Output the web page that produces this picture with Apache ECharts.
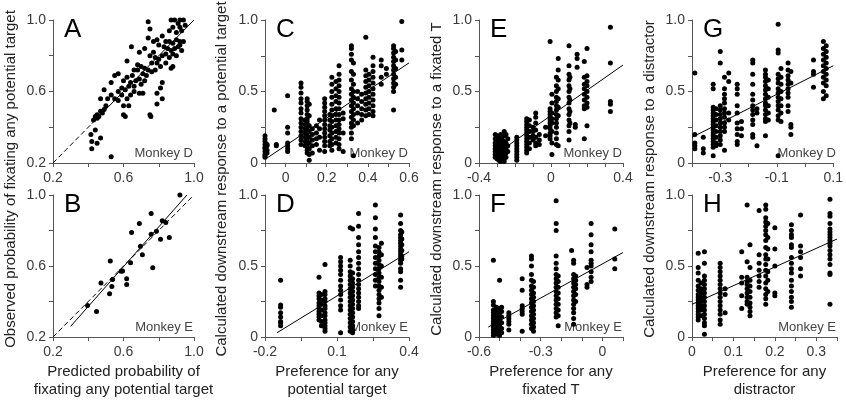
<!DOCTYPE html>
<html><head><meta charset="utf-8">
<script src="https://cdn.jsdelivr.net/npm/echarts@6/dist/echarts.min.js"></script>
<style>html,body{margin:0;padding:0;background:#fff}#c{width:846px;height:400px}</style>
</head><body><div id="c"></div>
<script>
// ---------- data ----------
const ptsA = [
[0.74,0.99],[0.87,1.0],[0.89,1.0],[0.92,1.0],[0.94,1.0],
[0.75,0.95],[0.88,0.96],[0.92,0.96],[0.86,0.94],[0.90,0.93],[0.93,0.94],[0.95,0.97],[0.91,0.98],
[0.77,0.88],[0.79,0.89],[0.80,0.86],[0.82,0.91],[0.84,0.88],[0.86,0.88],[0.88,0.87],[0.90,0.89],[0.92,0.88],
[0.83,0.85],[0.85,0.84],[0.87,0.83],[0.89,0.84],[0.91,0.85],[0.93,0.83],[0.88,0.81],[0.84,0.81],[0.86,0.79],[0.90,0.80],[0.92,0.86],[0.94,0.88],
[0.645,0.85],[0.69,0.82],[0.74,0.90],[0.72,0.84],
[0.75,0.80],[0.78,0.79],[0.80,0.78],[0.82,0.80],[0.79,0.76],[0.76,0.76],[0.81,0.74],[0.84,0.76],[0.77,0.82],
[0.62,0.77],[0.70,0.74],[0.72,0.73],[0.74,0.72],[0.68,0.72],[0.71,0.70],[0.73,0.69],[0.76,0.71],[0.78,0.72],[0.69,0.67],[0.72,0.66],[0.65,0.69],[0.67,0.66],[0.62,0.68],[0.64,0.65],[0.60,0.66],[0.63,0.63],[0.61,0.61],[0.59,0.62],[0.66,0.63],[0.70,0.64],[0.68,0.75],[0.66,0.72],
[0.88,0.74],[0.87,0.73],[0.82,0.65],[0.81,0.62],[0.79,0.59],[0.82,0.56],[0.79,0.53],[0.75,0.47],[0.755,0.46],[0.69,0.59],[0.71,0.59],
[0.55,0.69],[0.57,0.70],[0.53,0.65],[0.49,0.61],[0.53,0.58],[0.55,0.56],[0.51,0.56],[0.57,0.55],[0.59,0.58],[0.62,0.56],[0.60,0.52],[0.63,0.52],[0.47,0.56],[0.49,0.50],[0.47,0.49],[0.45,0.47],[0.46,0.46],[0.44,0.46],[0.45,0.45],[0.43,0.44],[0.48,0.48],[0.50,0.52],
[0.60,0.47],[0.61,0.46],[0.64,0.58],[0.66,0.60],[0.57,0.60],
[0.415,0.36],[0.42,0.32],[0.45,0.31],[0.47,0.34],[0.42,0.28],[0.44,0.385],[0.53,0.235]
];
const ptsB = [
[0.92,1.0],[0.757,0.896],[0.69,0.84],[0.82,0.855],[0.84,0.845],[0.646,0.789],[0.787,0.796],[0.757,0.779],
[0.81,0.751],[0.86,0.76],[0.696,0.711],[0.707,0.664],[0.766,0.59],[0.64,0.619],[0.525,0.628],[0.586,0.57],
[0.595,0.572],[0.538,0.524],[0.618,0.528],[0.618,0.496],[0.472,0.504],[0.534,0.485],[0.521,0.443],[0.396,0.377],[0.447,0.343]
];
// columns: [x, [y values]]
const colsC = [
[-0.10,[0.19,0.17,0.15,0.13,0.11,0.10,0.08,0.06,0.05,0.04]],
[-0.09,[0.13,0.09,0.07,0.12]],
[-0.055,[0.37]],
[-0.045,[0.13,0.12]],
[0.01,[0.47,0.25,0.21,0.14,0.12,0.10,0.08]],
[0.075,[0.56,0.53,0.49,0.45,0.42,0.38,0.35,0.31,0.28,0.25,0.22,0.19,0.16,0.13]],
[0.095,[0.30,0.27,0.24,0.21,0.18,0.15,0.12]],
[0.105,[0.45,0.43,0.40,0.37,0.34,0.31,0.29,0.27,0.25,0.23,0.21,0.19,0.17,0.15,0.13,0.11,0.09,0.07]],
[0.115,[0.41,0.33,0.26,0.22,0.18,0.14,0.10,0.06,0.02]],
[0.13,[0.24,0.20,0.16,0.12,0.07]],
[0.15,[0.26,0.21,0.17,0.13]],
[0.165,[0.30,0.24,0.18,0.09]],
[0.19,[0.45,0.42,0.39,0.36,0.33,0.30,0.27,0.24,0.21,0.18,0.15,0.12,0.08]],
[0.215,[0.34,0.30,0.26,0.23,0.19,0.15,0.12]],
[0.225,[0.60,0.55,0.50,0.46,0.41,0.37,0.33,0.29,0.25,0.21,0.17,0.13,0.09]],
[0.245,[0.57,0.52,0.47,0.43,0.38,0.34,0.30,0.26,0.22,0.18,0.14]],
[0.26,[0.68,0.62,0.58,0.54,0.50,0.46,0.42,0.38,0.34,0.30,0.27,0.24,0.21,0.17,0.13,0.10]],
[0.28,[0.35,0.31,0.21,0.08]],
[0.32,[0.82,0.80,0.76,0.72,0.64,0.58,0.52,0.48,0.44,0.40,0.36,0.32,0.28,0.25,0.21,0.17]],
[0.33,[0.70,0.62,0.55,0.50,0.46,0.42,0.38,0.34,0.30,0.26,0.05]],
[0.35,[0.50,0.45,0.40,0.35,0.28]],
[0.37,[0.48,0.43,0.38,0.34,0.30]],
[0.39,[0.88,0.65,0.61,0.57,0.53,0.49,0.45,0.41,0.37,0.33]],
[0.405,[0.62,0.58,0.54,0.50,0.46,0.42,0.38,0.34]],
[0.425,[0.74,0.68,0.64,0.60,0.56,0.52,0.48,0.44,0.40,0.36,0.33]],
[0.465,[0.72,0.68,0.60,0.55]],
[0.49,[0.66,0.62]],
[0.525,[0.82,0.80,0.77,0.74,0.71,0.68,0.65,0.62,0.59,0.56,0.53,0.50,0.37]],
[0.535,[0.78,0.72,0.66,0.60,0.55]],
[0.565,[0.99,0.79,0.72]]
];
const colsD = [
[-0.135,[0.40,0.225,0.21,0.17,0.14,0.11,0.10,0.08]],
[0.025,[0.42,0.31,0.29,0.27,0.24,0.22,0.20,0.18,0.16,0.14,0.12]],
[0.035,[0.30,0.26,0.23,0.19,0.15,0.11,0.08]],
[0.05,[0.51,0.32,0.30,0.27,0.25,0.22,0.20,0.17,0.15,0.12,0.10,0.08,0.06,0.04]],
[0.115,[0.56,0.53,0.50,0.47,0.44,0.40,0.36,0.33,0.30,0.26,0.22,0.19,0.03]],
[0.155,[0.77,0.54,0.50,0.46,0.43,0.40,0.37,0.34,0.31,0.28,0.25,0.22,0.19,0.16,0.13,0.10,0.07,0.04]],
[0.165,[0.76,0.45,0.41,0.38,0.35,0.32,0.29,0.26,0.23,0.20,0.17,0.14,0.11,0.08,0.05,0.03]],
[0.19,[0.87,0.78,0.70,0.65,0.60,0.56,0.52,0.48,0.44,0.40,0.37,0.34,0.31,0.28,0.25,0.22,0.20]],
[0.26,[0.93,0.84,0.76,0.70,0.64,0.60,0.56,0.52,0.48,0.44,0.40,0.36]],
[0.275,[0.63,0.60,0.57,0.54,0.51,0.48,0.45,0.42,0.39,0.36,0.33,0.30,0.27,0.24,0.20,0.15]],
[0.285,[0.66,0.58,0.50,0.42,0.35,0.28]],
[0.365,[0.86,0.80,0.75,0.72,0.70,0.68,0.66,0.64,0.62,0.60,0.58,0.56,0.54,0.52,0.48,0.46,0.40,0.35]],
[0.37,[0.74,0.69,0.65,0.61,0.57,0.55]]
];
const colsE = [
[-0.31,[0.20,0.17,0.14,0.12,0.10,0.08,0.06,0.04]],
[-0.30,[0.19,0.16,0.13,0.11,0.09,0.07,0.05,0.03]],
[-0.29,[0.18,0.15,0.12,0.10,0.08,0.06,0.04,0.02]],
[-0.28,[0.20,0.17,0.14,0.11,0.09,0.07,0.05,0.03,0.01]],
[-0.27,[0.16,0.13,0.10,0.08,0.06,0.04]],
[-0.26,[0.22,0.19,0.15,0.12,0.09,0.06,0.03,0.01]],
[-0.25,[0.20,0.14,0.10,0.07,0.04]],
[-0.24,[0.17,0.12,0.08]],
[-0.19,[0.18,0.16,0.14,0.12,0.10,0.08,0.06,0.04,0.02]],
[-0.135,[0.31,0.29,0.27,0.25,0.23,0.21,0.19,0.17,0.15,0.13,0.11,0.09,0.07]],
[-0.12,[0.30,0.26,0.22,0.18,0.14,0.10]],
[-0.10,[0.25,0.22,0.19,0.16]],
[-0.085,[0.35,0.32,0.28,0.23,0.18,0.14,0.12]],
[-0.065,[0.20,0.16,0.13]],
[-0.03,[0.25,0.19]],
[-0.005,[0.85,0.38,0.36,0.34,0.32,0.30,0.28,0.26,0.24,0.21,0.19,0.17]],
[0.005,[0.48,0.42,0.35,0.31,0.28,0.22,0.14,0.06]],
[0.03,[0.60,0.54,0.50,0.46,0.43,0.40,0.37,0.34,0.31,0.28,0.25,0.21,0.17,0.13]],
[0.04,[0.73,0.65,0.58,0.52,0.45,0.39,0.33,0.12]],
[0.10,[0.82,0.68,0.62,0.58,0.54,0.50,0.46,0.42,0.38,0.34,0.30,0.26,0.22,0.16]],
[0.105,[0.60,0.52,0.44,0.36,0.28]],
[0.135,[0.25,0.27]],
[0.145,[0.76,0.73,0.67]],
[0.185,[0.71,0.60,0.55,0.52,0.48,0.44,0.40,0.38,0.17]],
[0.20,[0.80,0.61,0.57,0.54,0.50,0.46,0.42,0.39,0.26]],
[0.33,[0.95,0.70,0.43,0.41,0.36]]
];
const colsF = [
[-0.53,[0.54,0.25,0.225,0.19,0.17,0.15,0.13,0.11,0.09,0.07,0.05,0.03,0.01]],
[-0.515,[0.21,0.18,0.16,0.14,0.12,0.10,0.08,0.06,0.04,0.02]],
[-0.50,[0.40,0.20,0.17,0.15,0.13,0.11,0.09,0.07,0.05,0.03,0.01]],
[-0.49,[0.21,0.18,0.14,0.10,0.06,0.03]],
[-0.455,[0.17,0.15,0.13,0.11,0.09,0.05]],
[-0.39,[0.41,0.33,0.22,0.20,0.18,0.16,0.04]],
[-0.345,[0.57,0.55,0.50,0.44,0.40,0.36,0.33,0.30,0.27,0.24,0.21,0.18,0.15,0.12,0.09,0.06]],
[-0.335,[0.39,0.35,0.31,0.28,0.25,0.22,0.19,0.16,0.13,0.10,0.07,0.04]],
[-0.225,[0.96,0.80,0.75,0.57,0.52,0.48,0.44,0.41,0.38,0.35,0.32,0.29,0.26,0.23,0.20,0.17,0.14]],
[-0.215,[0.43,0.39,0.35,0.31,0.27,0.23,0.19,0.15,0.08]],
[-0.15,[0.61]],
[-0.14,[0.54,0.52,0.44,0.41,0.38,0.35,0.32,0.29,0.26,0.23,0.20,0.17,0.13,0.09]],
[-0.13,[0.43,0.40,0.37,0.34,0.30,0.25]],
[-0.075,[0.49,0.37,0.35]],
[-0.055,[0.80,0.72,0.65,0.60,0.54,0.52,0.50,0.46,0.42,0.39]],
[0.06,[0.76,0.55,0.48]]
];
const colsG = [
[-0.39,[0.63,0.20,0.14,0.12,0.10]],
[-0.36,[0.18,0.10,0.07]],
[-0.325,[0.55,0.52,0.39,0.37,0.35,0.33,0.31,0.29,0.27,0.25,0.23,0.21,0.19,0.17,0.15,0.13,0.11,0.05]],
[-0.315,[0.38,0.34,0.30,0.26,0.22,0.18,0.14,0.12]],
[-0.30,[0.78,0.70,0.40,0.37,0.34,0.31,0.28,0.25,0.22,0.19,0.16,0.13]],
[-0.285,[0.60,0.52,0.48,0.45,0.42,0.38,0.35,0.32,0.28,0.25,0.22,0.09]],
[-0.27,[0.63,0.57,0.35,0.30]],
[-0.24,[0.55,0.52,0.48,0.40,0.35,0.28,0.24,0.20,0.15,0.13]],
[-0.225,[0.29,0.24,0.19]],
[-0.185,[0.72,0.70,0.62,0.55,0.48,0.44,0.40,0.37,0.34,0.30,0.27,0.20,0.18]],
[-0.17,[0.38,0.35,0.12]],
[-0.14,[0.65,0.62,0.60,0.57,0.54,0.51,0.48,0.45,0.42,0.40,0.37,0.34,0.31,0.29,0.19]],
[-0.13,[0.58,0.52,0.46,0.40,0.35,0.30]],
[-0.095,[0.97,0.79,0.77,0.62,0.59,0.56,0.52,0.49,0.46,0.43,0.40,0.37,0.33,0.30,0.05]],
[-0.085,[0.66,0.60,0.55,0.50,0.45,0.40,0.35,0.29]],
[-0.06,[0.70,0.65,0.61,0.58,0.55,0.52,0.49,0.46,0.40,0.36]],
[-0.05,[0.64,0.56,0.27,0.25,0.20]],
[0.03,[0.72,0.64,0.62,0.53]],
[0.065,[0.85,0.80,0.76,0.72,0.68,0.64,0.60,0.56,0.50,0.45]],
[0.075,[0.82,0.78,0.74,0.70,0.66,0.62,0.58,0.54,0.47]]
];
const colsH = [
[0.015,[0.59,0.49,0.45,0.40,0.36,0.33,0.30,0.28,0.26,0.24,0.22,0.20,0.18,0.16,0.14,0.12]],
[0.022,[0.38,0.34,0.31,0.28,0.25,0.22,0.19,0.15]],
[0.03,[0.60,0.52,0.43,0.40,0.37,0.34,0.31,0.28,0.25,0.22,0.19,0.16,0.13,0.10,0.08,0.02]],
[0.068,[0.52,0.49,0.46,0.43,0.40,0.37,0.34,0.31,0.28,0.25,0.22,0.19,0.16,0.12,0.09]],
[0.08,[0.34,0.30,0.17]],
[0.12,[0.60,0.42,0.38,0.29,0.20]],
[0.133,[0.93,0.53,0.42,0.39,0.37,0.34,0.31,0.28,0.25,0.23]],
[0.14,[0.65,0.49,0.40,0.36,0.32,0.28,0.24,0.21,0.18,0.15]],
[0.162,[0.89,0.58,0.52,0.47,0.43,0.39,0.35]],
[0.178,[0.93,0.90,0.84,0.81,0.78,0.75,0.72,0.68,0.63,0.58,0.55,0.51,0.47,0.43,0.38,0.34,0.30,0.27,0.23]],
[0.183,[0.80,0.70,0.62,0.55,0.46,0.40,0.32]],
[0.20,[0.77,0.62,0.50,0.31,0.29]],
[0.24,[0.79,0.75,0.72,0.70,0.65,0.63,0.56,0.52,0.48,0.45,0.40,0.36,0.32,0.28,0.25,0.21]],
[0.262,[0.86,0.64,0.60,0.56,0.48,0.43]],
[0.333,[0.97,0.87,0.85,0.80,0.76,0.74,0.72,0.70,0.68,0.66,0.64,0.61,0.58,0.55,0.51,0.45,0.44,0.23]]
];
// regression lines and identity lines
const fitA = [[0.42,0.42],[1.0,1.0]];
const identA = [[0.2,0.2],[0.42,0.42]];
const fitB = [[0.30,0.26],[0.96,1.0]];
const identB = [[0.2,0.2],[1.0,1.0]];
const fitC = [[-0.09,0.035],[0.6,0.70]];
const fitD = [[-0.15,0.03],[0.4,0.60]];
const fitE = [[-0.32,0.05],[0.4,0.685]];
const fitF = [[-0.555,0.07],[0.1,0.595]];
const fitG = [[-0.4,0.18],[0.1,0.68]];
const fitH = [[0.0,0.23],[0.35,0.69]];
// ticks and tick labels
const ticksProb = [0.2,0.4,0.6,0.8,1.0], labelsProb = [0.2,0.6,1.0];
const ticksResp = [0,0.25,0.5,0.75,1.0], labelsResp = [0,0.5,1.0];
const ticksC = [-0.1,0,0.1,0.2,0.3,0.4,0.5,0.6], labelsC = [0,0.2,0.4,0.6];
const ticksD = [-0.2,-0.05,0.1,0.25,0.4], labelsD = [-0.2,0.1,0.4];
const ticksE = [-0.4,-0.3,-0.2,-0.1,0,0.1,0.2,0.3,0.4], labelsE = [-0.4,0,0.4];
const ticksF = [-0.6,-0.5,-0.4,-0.3,-0.2,-0.1,0,0.1], labelsF = [-0.6,-0.3,0];
const ticksG = [-0.4,-0.3,-0.2,-0.1,0,0.1], labelsG = [-0.3,-0.1,0.1];
const ticksH = [0,0.05,0.1,0.15,0.2,0.25,0.3,0.35], labelsH = [0,0.1,0.2,0.3];

// ---------- layout ----------
const FONT = '"Liberation Sans", Arial, Helvetica, sans-serif';
const flat = cols => cols.flatMap(c => c[1].map(y => [c[0], y]));
const panels = [
 {L:'A', g:[53,20,141,143], xr:[0.2,1.0], xt:ticksProb, xl:labelsProb, yr:[0.2,1.0], yt:ticksProb, yl:labelsProb, pts:ptsA, fit:fitA, ident:identA, m:'Monkey D'},
 {L:'B', g:[53,195,141,142], xr:[0.2,1.0], xt:ticksProb, xl:labelsProb, yr:[0.2,1.0], yt:ticksProb, yl:labelsProb, pts:ptsB, fit:fitB, ident:identB, m:'Monkey E'},
 {L:'C', g:[265,20,144,143], xr:[-0.1,0.6], xt:ticksC, xl:labelsC, yr:[0,1], yt:ticksResp, yl:labelsResp, pts:flat(colsC), fit:fitC, m:'Monkey D'},
 {L:'D', g:[265,195,144,142], xr:[-0.2,0.4], xt:ticksD, xl:labelsD, yr:[0,1], yt:ticksResp, yl:labelsResp, pts:flat(colsD), fit:fitD, m:'Monkey E'},
 {L:'E', g:[479,20,144,143], xr:[-0.4,0.4], xt:ticksE, xl:labelsE, yr:[0,1], yt:ticksResp, yl:labelsResp, pts:flat(colsE), fit:fitE, m:'Monkey D'},
 {L:'F', g:[479,195,144,142], xr:[-0.6,0.1], xt:ticksF, xl:labelsF, yr:[0,1], yt:ticksResp, yl:labelsResp, pts:flat(colsF), fit:fitF, m:'Monkey E'},
 {L:'G', g:[692,20,145,143], xr:[-0.4,0.1], xt:ticksG, xl:labelsG, yr:[0,1], yt:ticksResp, yl:labelsResp, pts:flat(colsG), fit:fitG, m:'Monkey D'},
 {L:'H', g:[692,195,145,142], xr:[0,0.35], xt:ticksH, xl:labelsH, yr:[0,1], yt:ticksResp, yl:labelsResp, pts:flat(colsH), fit:fitH, m:'Monkey E'}
];
const fmt = v => Math.abs(v) < 1e-9 ? '0' : v.toFixed(1);
const axisCommon = (r, t, l) => ({
  type:'value', min:r[0], max:r[1], splitLine:{show:false},
  axisLine:{show:true, onZero:false, lineStyle:{color:'#555', width:1}},
  axisTick:{show:true, inside:false, length:4, customValues:t, lineStyle:{color:'#555'}},
  axisLabel:{customValues:l, formatter:fmt, color:'#3a3a3a', fontSize:14, fontFamily:FONT}
});
const grid = [], xAxis = [], yAxis = [], series = [], graphic = [];
panels.forEach((p, i) => {
  grid.push({left:p.g[0], top:p.g[1], width:p.g[2], height:p.g[3], containLabel:false});
  const xa = axisCommon(p.xr, p.xt, p.xl); xa.gridIndex = i; xa.axisLabel.margin = 8;
  const ya = axisCommon(p.yr, p.yt, p.yl); ya.gridIndex = i; ya.axisLabel.margin = 7;
  xAxis.push(xa); yAxis.push(ya);
  series.push({type:'scatter', xAxisIndex:i, yAxisIndex:i, data:p.pts, symbolSize:5,
    itemStyle:{color:'#000', opacity:1}, silent:true});
  series.push({type:'line', xAxisIndex:i, yAxisIndex:i, data:p.fit, symbol:'none',
    lineStyle:{color:'#000', width:1}, silent:true, z:3});
  if (p.ident) series.push({type:'line', xAxisIndex:i, yAxisIndex:i, data:p.ident, symbol:'none',
    lineStyle:{color:'#000', width:1, type:[5,3]}, silent:true, z:3});
  graphic.push({type:'text', x:p.g[0]+11, y:p.g[1]+10, silent:true,
    style:{text:p.L, font:'26px '+FONT, fill:'#000', align:'left', verticalAlign:'middle'}});
  graphic.push({type:'text', x:p.g[0]+p.g[2]-1, y:p.g[1]+p.g[3]-10, silent:true,
    style:{text:p.m, font:'13px '+FONT, fill:'#444', align:'right', verticalAlign:'middle'}});
});
const yTitles = [
  [11, 'Observed probability of fixating any potential target'],
  [222, 'Calculated downstream response to a potential target'],
  [437, 'Calculated downstream response to a fixated T'],
  [650, 'Calculated downstream response to a distractor']
];
yTitles.forEach(t => graphic.push({type:'text', x:t[0], y:179, rotation:Math.PI/2, silent:true,
  style:{text:t[1], font:'15px '+FONT, fill:'#222', align:'center', verticalAlign:'middle'}}));
const xTitles = [
  [123.5, 'Predicted probability of\nfixating any potential target'],
  [337, 'Preference for any\npotential target'],
  [551, 'Preference for any\nfixated T'],
  [764.5, 'Preference for any\ndistractor']
];
xTitles.forEach(t => graphic.push({type:'text', x:t[0], y:381, silent:true,
  style:{text:t[1], font:'15px '+FONT, lineHeight:18, fill:'#222', align:'center', verticalAlign:'middle'}}));

const chart = echarts.init(document.getElementById('c'), null, {renderer:'canvas'});
chart.setOption({animation:false, backgroundColor:'#fff', grid, xAxis, yAxis, series, graphic});
</script></body></html>
